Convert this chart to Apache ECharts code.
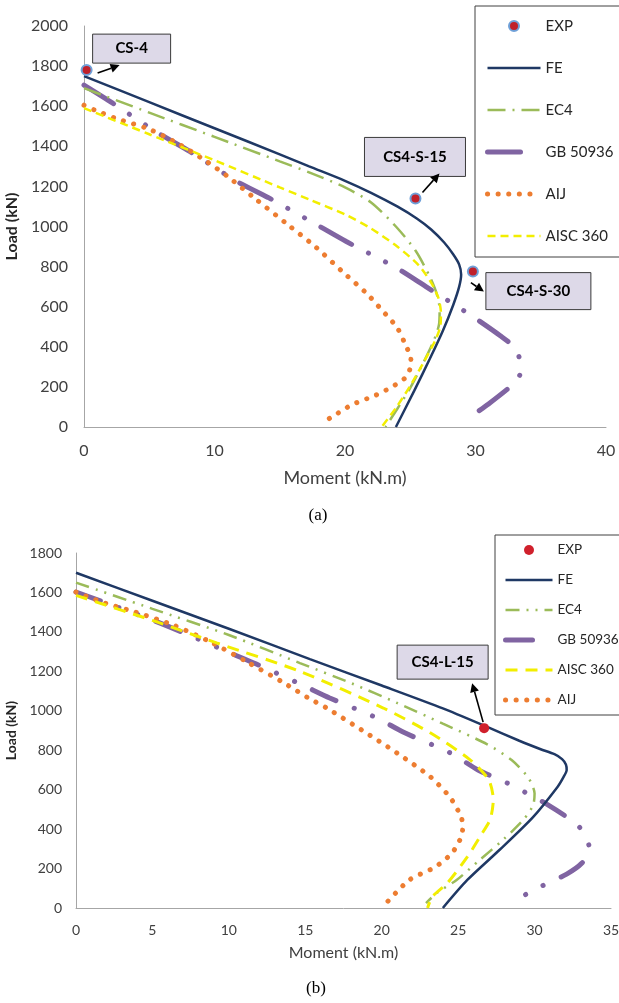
<!DOCTYPE html>
<html>
<head>
<meta charset="utf-8">
<script src="https://cdn.jsdelivr.net/npm/echarts@6/dist/echarts.min.js"></script>
<style>
  html, body { margin: 0; padding: 0; background: #fff; }
  #chart { width: 619px; height: 1003px; }
</style>
</head>
<body>
<div id="chart"></div>
<script>
// ---- (a) moment / load pairs ----
const expA_M = [0.2, 25.4, 29.8]
const expA_P = [1780, 1140, 775]
const expA_names = ['CS-4', 'CS4-S-15', 'CS4-S-30']

const feA_M = [0, 5, 10, 15, 17.25, 20, 22, 24, 25.5, 26.6, 27.6, 28.3, 28.75, 28.9, 28.75, 28.3, 27.5, 26.5, 25.3, 23.9]
const feA_P = [1750, 1620, 1490, 1360, 1300, 1228, 1168, 1100, 1040, 985, 920, 860, 810, 760, 700, 610, 480, 340, 180, 0]

const ec4A_M = [0, 5, 10, 15, 17.25, 20, 22, 23.9, 25.4, 26.5, 27.0, 27.25, 27.2, 26.8, 26.0, 25.0, 24.0, 23.1]
const ec4A_P = [1690, 1568, 1447, 1325, 1270, 1195, 1120, 1000, 880, 750, 670, 590, 510, 430, 320, 195, 90, 0]

const gbA_M = [0, 2.2, 5.7, 8.1, 11.7, 14.1, 17.8, 20.1, 23.9, 26.2, 28.5, 29.7, 31.9, 33.0, 33.5, 33.4, 33.0, 31.0, 29.8]
const gbA_P = [1705, 1615, 1465, 1375, 1225, 1145, 1010, 925, 795, 700, 605, 555, 455, 395, 305, 260, 220, 115, 60]

const aijA_M = [0, 0.84, 2.4, 5.0, 7.3, 9.5, 11.0, 13.0, 15.8, 17.8, 19.8, 21.6, 22.8, 24.0, 24.7, 25.05, 25.0, 24.7, 23.6, 22.4, 20.5, 19.0, 18.2]
const aijA_P = [1605, 1580, 1540, 1485, 1410, 1320, 1250, 1145, 1000, 895, 775, 670, 585, 495, 400, 345, 295, 250, 200, 160, 110, 50, 20]

const aiscA_M = [0, 5, 10, 15, 17.25, 20, 22, 24, 25.6, 26.6, 27.15, 27.35, 27.3, 26.9, 26.0, 25.0, 23.9, 22.8]
const aiscA_P = [1590, 1460, 1330, 1195, 1135, 1060, 990, 900, 810, 720, 645, 570, 500, 430, 320, 205, 95, 0]

// ---- (b) ----
const expB_M = [26.7]
const expB_P = [912]
const expB_names = ['CS4-L-15']

const feB_M = [0, 5, 10, 15.3, 20, 24, 26.9, 29.0, 30.4, 31.3, 31.8, 32.05, 32.1, 31.9, 31.5, 29.9, 27.7, 25.6, 24.0]
const feB_P = [1700, 1558, 1416, 1262, 1128, 1012, 918, 848, 805, 780, 755, 728, 700, 665, 614, 461, 294, 142, 0]

const ec4B_M = [0, 5, 10, 14.65, 18, 21, 24, 26.9, 28.5, 29.6, 30.0, 29.9, 29.3, 28.0, 26.4, 24.9, 23.6, 22.9]
const ec4B_P = [1650, 1517, 1384, 1242, 1140, 1040, 935, 830, 750, 660, 580, 520, 450, 350, 243, 142, 76, 25]

const gbB_M = [0, 1.5, 5.0, 6.9, 10.1, 11.8, 14.8, 16.6, 19.7, 21.4, 24.5, 26.3, 28.2, 30.9, 32.8, 33.4, 33.6, 33.1, 32.1, 30.2, 28.4]
const gbB_P = [1602, 1560, 1460, 1400, 1293, 1237, 1131, 1065, 963, 892, 786, 700, 634, 522, 421, 355, 294, 228, 172, 101, 25]

const aiscB_M = [0, 5, 9.2, 14.65, 20.1, 23.2, 25.8, 27.0, 27.3, 27.1, 26.5, 25.6, 24.3, 23.3, 23.0]
const aiscB_P = [1585, 1458, 1344, 1200, 1014, 887, 750, 650, 550, 450, 370, 259, 127, 56, 0]

const aijB_M = [0, 0.65, 1.9, 3.9, 6.35, 8.8, 11.2, 13.5, 15.2, 16.4, 18.7, 21.0, 23.2, 24.5, 25.2, 25.3, 25.2, 24.6, 23.5, 21.8, 20.3]
const aijB_P = [1602, 1582, 1546, 1500, 1435, 1349, 1247, 1146, 1065, 1014, 902, 786, 664, 558, 461, 411, 360, 279, 208, 142, 25]

const ticksA_x = [0, 10, 20, 30, 40]
const ticksA_y = [0, 200, 400, 600, 800, 1000, 1200, 1400, 1600, 1800, 2000]
const ticksB_x = [0, 5, 10, 15, 20, 25, 30, 35]
const ticksB_y = [0, 200, 400, 600, 800, 1000, 1200, 1400, 1600, 1800]

const font = 'Lato'
const pts = (m, p) => m.map((v, i) => [v, p[i]])

function curve(name, g, m, p, lineStyle, z) {
  return {
    name: name,
    type: 'line',
    xAxisIndex: g,
    yAxisIndex: g,
    data: pts(m, p),
    symbol: 'none',
    smooth: 0.25,
    z: z,
    lineStyle: lineStyle
  }
}

function axes(g, xt, yt, labelSize, nameSize, xGap, yGap, xMargin, yMargin) {
  const axisLine = { show: true, onZero: false, lineStyle: { color: '#A6A6A6', width: 1 } }
  const plain = v => String(v)
  return {
    x: {
      type: 'value', gridIndex: g, min: xt[0], max: xt[xt.length - 1], interval: xt[1] - xt[0],
      axisLine: axisLine, axisTick: { show: false }, splitLine: { show: false },
      axisLabel: { fontFamily: font, fontSize: labelSize, color: '#404040', margin: xMargin, formatter: plain },
      name: 'Moment (kN.m)', nameLocation: 'middle', nameGap: xGap,
      nameTextStyle: { fontFamily: font, fontSize: nameSize, color: '#404040' }
    },
    y: {
      type: 'value', gridIndex: g, min: yt[0], max: yt[yt.length - 1], interval: yt[1] - yt[0],
      axisLine: axisLine, axisTick: { show: false }, splitLine: { show: false },
      axisLabel: { fontFamily: font, fontSize: labelSize, color: '#404040', margin: yMargin, formatter: plain },
      name: 'Load (kN)', nameLocation: 'middle', nameGap: yGap, nameRotate: 90,
      nameTextStyle: { fontFamily: font, fontSize: nameSize - 2, fontWeight: 'bold', color: '#262626' }
    }
  }
}

const axA = axes(0, ticksA_x, ticksA_y, 16, 18, 42, 57, 16, 16)
const axB = axes(1, ticksB_x, ticksB_y, 14, 16, 37, 53, 15, 14)

const NAVY = '#1F3864'
const GREEN = '#9BBB59'
const PURPLE = '#8064A2'
const ORANGE = '#ED7D31'
const YELLOW = '#F2EE00'

const option = {
  animation: false,
  backgroundColor: '#fff',
  grid: [
    { left: 84, top: 26, width: 522, height: 401, outerBoundsMode: 'none', containLabel: false },
    { left: 76, top: 553, width: 535, height: 355, outerBoundsMode: 'none', containLabel: false }
  ],
  xAxis: [axA.x, axB.x],
  yAxis: [axA.y, axB.y],
  legend: [
    {
      left: 475, top: 6, orient: 'vertical',
      itemWidth: 53, itemHeight: 10, itemGap: 22,
      padding: [10, 40, 11, 10],
      borderColor: '#404040', borderWidth: 1, backgroundColor: '#fff',
      selectedMode: false,
      textStyle: { fontFamily: font, fontSize: 15, color: '#262626', lineHeight: 20 },
      lineStyle: { width: 'inherit' },
      itemStyle: { opacity: 0 },
      data: [
        { name: 'EXP', itemStyle: { opacity: 1 } }, 'FE', 'EC4',
        { name: 'GB 50936', lineStyle: { type: [33, 100] } }, 'AIJ', 'AISC 360'
      ]
    },
    {
      left: 495, top: 535, orient: 'vertical',
      itemWidth: 47, itemHeight: 10, itemGap: 10,
      padding: [5, 40, 5, 8],
      borderColor: '#404040', borderWidth: 1, backgroundColor: '#fff',
      selectedMode: false,
      formatter: n => n.replace(' (b)', ''),
      textStyle: { fontFamily: font, fontSize: 13.5, color: '#262626', lineHeight: 20 },
      lineStyle: { width: 'inherit' },
      itemStyle: { opacity: 0 },
      data: [
        { name: 'EXP (b)', itemStyle: { opacity: 1 } }, 'FE (b)', 'EC4 (b)',
        { name: 'GB 50936 (b)', lineStyle: { type: [27, 100] } }, 'AISC 360 (b)', 'AIJ (b)'
      ]
    }
  ],
  series: [
    curve('FE', 0, feA_M, feA_P, { color: NAVY, width: 2.5 }, 6),
    curve('EC4', 0, ec4A_M, ec4A_P, { color: GREEN, width: 2.5, type: [18, 7, 2, 7] }, 3),
    curve('GB 50936', 0, gbA_M, gbA_P, { color: PURPLE, width: 5, type: [35, 19, 0.1, 19, 0.1, 19], cap: 'round' }, 2),
    curve('AIJ', 0, aijA_M, aijA_P, { color: ORANGE, width: 5, type: [0.1, 10.5], cap: 'round' }, 4),
    curve('AISC 360', 0, aiscA_M, aiscA_P, { color: YELLOW, width: 2.5, type: [8, 5] }, 5),
    {
      name: 'EXP', type: 'scatter', xAxisIndex: 0, yAxisIndex: 0, z: 10,
      data: pts(expA_M, expA_P), symbolSize: 10,
      itemStyle: { color: '#C0202A', borderColor: '#6FA0D8', borderWidth: 2, opacity: 1 }
    },

    curve('FE (b)', 1, feB_M, feB_P, { color: NAVY, width: 2.5 }, 6),
    curve('EC4 (b)', 1, ec4B_M, ec4B_P, { color: GREEN, width: 2.5, type: [14, 7, 2, 7, 2, 7] }, 3),
    curve('GB 50936 (b)', 1, gbB_M, gbB_P, { color: PURPLE, width: 5, type: [26, 19.7, 0.1, 19.7, 0.1, 19.7], cap: 'round' }, 2),
    curve('AISC 360 (b)', 1, aiscB_M, aiscB_P, { color: YELLOW, width: 3, type: [12, 8] }, 5),
    curve('AIJ (b)', 1, aijB_M, aijB_P, { color: ORANGE, width: 5, type: [0.1, 10.5], cap: 'round' }, 4),
    {
      name: 'EXP (b)', type: 'scatter', xAxisIndex: 1, yAxisIndex: 1, z: 10,
      data: pts(expB_M, expB_P), symbolSize: 10,
      itemStyle: { color: '#D0202C', opacity: 1 }
    }
  ]
}

const chart = echarts.init(document.getElementById('chart'))
chart.setOption(option)

// callout boxes + arrows, placed relative to the EXP points
// box: [dx, dy, w, h], arrow: [dx1, dy1, dx2, dy2] (pixels from the point)
const calloutsA = [
  { box: [6, -36, 78, 29], arrow: [11, 3, 33, -5] },
  { box: [-51, -61, 101, 39], arrow: [7, -6, 24, -25] },
  { box: [13, 1, 105, 37], arrow: [-2, 11, 11, 20] }
]
const calloutsB = [
  { box: [-87, -83, 91, 34], arrow: [-1, -6, -12, -45] }
]

const graphics = []
function addCallout(g, m, p, text, c) {
  const [px, py] = chart.convertToPixel({ gridIndex: g }, [m, p])
  const [bx, by, bw, bh] = c.box
  graphics.push({
    type: 'rect', z: 20,
    shape: { x: px + bx, y: py + by, width: bw, height: bh },
    style: { fill: '#DDD9E8', stroke: '#3A3A3A', lineWidth: 1 }
  })
  graphics.push({
    type: 'text', z: 21,
    x: px + bx + bw / 2, y: py + by + bh / 2,
    style: { text: text, fontFamily: font, fontWeight: 'bold', fontSize: 15, fill: '#000', align: 'center', verticalAlign: 'middle' }
  })
  const x1 = px + c.arrow[0], y1 = py + c.arrow[1], x2 = px + c.arrow[2], y2 = py + c.arrow[3]
  const len = Math.hypot(x2 - x1, y2 - y1)
  const ux = (x2 - x1) / len, uy = (y2 - y1) / len
  const hl = 9, hw = 4.5
  const bxp = x2 - ux * hl, byp = y2 - uy * hl
  graphics.push({
    type: 'line', z: 20,
    shape: { x1: x1, y1: y1, x2: bxp, y2: byp },
    style: { stroke: '#000', lineWidth: 1.6 }
  })
  graphics.push({
    type: 'polygon', z: 20,
    shape: { points: [[x2, y2], [bxp - uy * hw, byp + ux * hw], [bxp + uy * hw, byp - ux * hw]] },
    style: { fill: '#000' }
  })
}
expA_names.forEach((n, i) => addCallout(0, expA_M[i], expA_P[i], n, calloutsA[i]))
expB_names.forEach((n, i) => addCallout(1, expB_M[i], expB_P[i], n, calloutsB[i]))

graphics.push({
  type: 'text', x: 318, y: 516,
  style: { text: '(a)', fontFamily: 'Liberation Serif', fontSize: 17, fill: '#000', align: 'center', verticalAlign: 'middle' }
})
graphics.push({
  type: 'text', x: 316, y: 989,
  style: { text: '(b)', fontFamily: 'Liberation Serif', fontSize: 17, fill: '#000', align: 'center', verticalAlign: 'middle' }
})

chart.setOption({ graphic: graphics })
</script>
</body>
</html>
